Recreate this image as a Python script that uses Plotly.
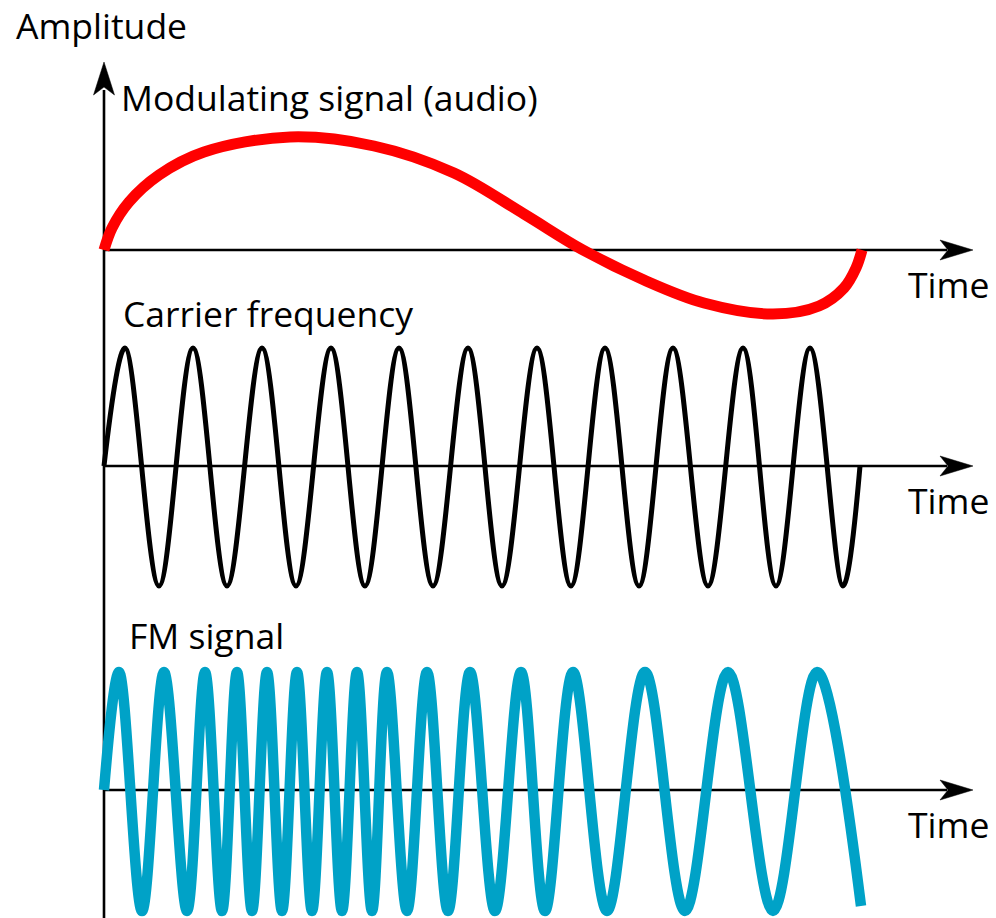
import plotly.graph_objects as go

W, H = 996, 918

# ---- data (time in arbitrary units from the origin, amplitude up = positive) ----
mod_time = [0, 8, 25, 55, 100, 186, 270, 350, 420, 479, 540, 600, 669, 715, 740, 752, 758]
mod_amp = [0, 22, 48, 75, 98, 113, 104, 77, 36, 0, -30, -53, -64, -56, -38, -18, 0]

car_time = [0, 21, 55, 89, 123, 158, 192, 227, 261, 295, 329, 364, 398, 433, 467,
            501, 535, 569, 604, 639, 672, 706, 739, 756]
car_amp = [0, 118, -120, 118, -120, 118, -120, 118, -120, 118, -120, 118, -120, 118, -120,
           118, -120, 118, -120, 118, -120, 118, -120, 0]

fm_time = [0, 15, 38, 60, 83, 101, 118, 133, 148, 163, 178, 193, 208, 223, 238, 253, 268,
           283, 303, 323, 344, 366, 391, 417, 441, 469, 503, 541, 581, 624, 669, 713, 757]
fm_amp = [0, 118, -121, 118, -121, 118, -121, 118, -121, 118, -121, 118, -121, 118, -121, 118, -121,
          118, -121, 118, -121, 118, -121, 118, -121, 118, -121, 118, -121, 118, -121, 118, -116]

panel_titles = ["Modulating signal (audio)", "Carrier frequency", "FM signal"]
y_title = "Amplitude"
x_title = "Time"

# ---- layout geometry (pixels) ----
ORIGIN_X = 104
BASELINES = [250, 466, 790]
TIP_X = 973
Y_TIP = 62


def px(x):
    return x / W


def py(y):
    return 1 - y / H


fig = go.Figure()
fig.add_trace(go.Scatter(x=mod_time, y=mod_amp, mode="lines", yaxis="y",
                         line=dict(color="#FF0000", width=11, shape="spline", smoothing=1)))
fig.add_trace(go.Scatter(x=car_time, y=car_amp, mode="lines", yaxis="y2",
                         line=dict(color="#000000", width=5, shape="spline", smoothing=1)))
fig.add_trace(go.Scatter(x=fm_time, y=fm_amp, mode="lines", yaxis="y3",
                         line=dict(color="#00A2C7", width=10.5, shape="spline", smoothing=1)))

shapes = []
LW = 2.6
# vertical amplitude axis
shapes.append(dict(type="line", xref="paper", yref="paper", layer="below",
                   x0=px(ORIGIN_X), x1=px(ORIGIN_X), y0=py(H + 5), y1=py(Y_TIP + 28),
                   line=dict(color="black", width=LW)))
shapes.append(dict(type="path", xref="paper", yref="paper", layer="below",
                   path=f"M{px(ORIGIN_X)},{py(Y_TIP)} L{px(ORIGIN_X - 10.5)},{py(Y_TIP + 33)} "
                        f"L{px(ORIGIN_X)},{py(Y_TIP + 25)} L{px(ORIGIN_X + 10.5)},{py(Y_TIP + 33)} Z",
                   fillcolor="black", line=dict(color="black", width=0.5)))
# time axes
for b in BASELINES:
    shapes.append(dict(type="line", xref="paper", yref="paper", layer="below",
                       x0=px(ORIGIN_X), x1=px(TIP_X - 26), y0=py(b), y1=py(b),
                       line=dict(color="black", width=LW)))
    shapes.append(dict(type="path", xref="paper", yref="paper", layer="below",
                       path=f"M{px(TIP_X)},{py(b)} L{px(TIP_X - 33)},{py(b - 10)} "
                            f"L{px(TIP_X - 25)},{py(b)} L{px(TIP_X - 33)},{py(b + 10)} Z",
                       fillcolor="black", line=dict(color="black", width=0.5)))

FONT = dict(family="Open Sans", size=35.5, color="black")
ann = []


def label(text, x, y):
    ann.append(dict(text=text, x=px(x), y=py(y), xref="paper", yref="paper",
                    xanchor="left", yanchor="middle", showarrow=False, font=FONT))


label(y_title, 14, 25)
label(panel_titles[0], 119, 97)
label(panel_titles[1], 121, 313)
label(panel_titles[2], 127, 635)
for yy in [284, 500, 824]:
    label(x_title, 906, yy)

axis_common = dict(visible=False, fixedrange=True)
fig.update_layout(
    width=W, height=H, autosize=False,
    margin=dict(l=0, r=0, t=0, b=0, pad=0),
    paper_bgcolor="white", plot_bgcolor="rgba(0,0,0,0)",
    showlegend=False,
    xaxis=dict(range=[-ORIGIN_X, W - ORIGIN_X], domain=[0, 1], **axis_common),
    yaxis=dict(range=[BASELINES[0] - H, BASELINES[0]], domain=[0, 1], **axis_common),
    yaxis2=dict(range=[BASELINES[1] - H, BASELINES[1]], domain=[0, 1], overlaying="y", **axis_common),
    yaxis3=dict(range=[BASELINES[2] - H, BASELINES[2]], domain=[0, 1], overlaying="y", **axis_common),
    shapes=shapes,
    annotations=ann,
)

fig.write_html("out.html", config={"displayModeBar": False, "staticPlot": True},
               post_script="document.body.style.margin='0';document.body.style.overflow='hidden';")
